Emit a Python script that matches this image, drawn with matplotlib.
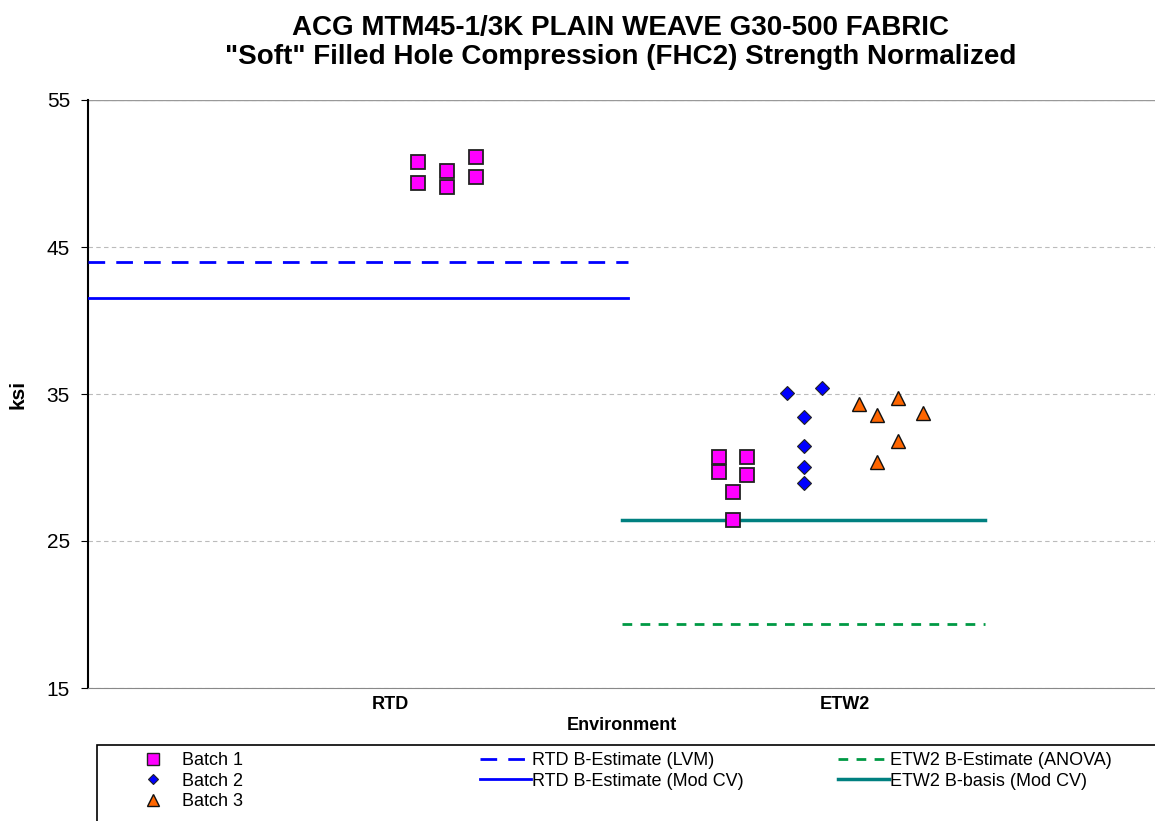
#!/usr/bin/env python3
import matplotlib
matplotlib.use('Agg')
import matplotlib.pyplot as plt
from matplotlib.lines import Line2D
from matplotlib.patches import Rectangle

plt.rcParams['font.family'] = ['Liberation Sans', 'DejaVu Sans']

# categories on the x axis
categories = ['RTD', 'ETW2']
cat_pos = [1, 2]

# RTD, batch 1 (x is the jittered plotting position)
rtd_b1_x = [1.062, 1.062, 1.125, 1.125, 1.189, 1.189]
rtd_b1_y = [50.78, 49.35, 50.17, 49.08, 51.12, 49.76]

# ETW2, batches 1-3
etw_b1_x = [1.723, 1.723, 1.785, 1.785, 1.754, 1.754]
etw_b1_y = [30.69, 29.67, 30.69, 29.49, 28.33, 26.45]
etw_b2_x = [1.873, 1.949, 1.910, 1.910, 1.910, 1.910]
etw_b2_y = [35.09, 35.39, 33.46, 31.44, 30.01, 28.95]
etw_b3_x = [2.031, 2.070, 2.116, 2.171, 2.116, 2.070]
etw_b3_y = [34.30, 33.57, 34.75, 33.73, 31.80, 30.35]

# basis values
rtd_lvm = 43.98
rtd_modcv = 41.53
etw_anova = 19.35
etw_modcv = 26.43
rtd_span = [0.336, 1.523]
etw_span = [1.51, 2.308]

fig = plt.figure(figsize=(11.55, 8.21), dpi=100)
ax = fig.add_axes([88/1155, 1-688/821, 1-88/1155, (688-100)/821])

sq = dict(marker='s', ms=10, mfc='#FF00FF', mec='#222222', mew=1.3, ls='none')
dm = dict(marker='D', ms=7, mfc='#0000FF', mec='#222222', mew=0.8, ls='none')
tr = dict(marker='^', ms=10, mfc='#FF6600', mec='#111111', mew=1.0, ls='none')

ax.plot(rtd_b1_x, rtd_b1_y, zorder=5, **sq)
ax.plot(etw_b1_x, etw_b1_y, zorder=5, **sq)
ax.plot(etw_b2_x, etw_b2_y, zorder=5, **dm)
ax.plot(etw_b3_x, etw_b3_y, zorder=5, **tr)

ax.plot(rtd_span, [rtd_lvm]*2, color='#0000FF', lw=2, ls=(0, (6, 4)), zorder=3)
ax.plot(rtd_span, [rtd_modcv]*2, color='#0000FF', lw=2, zorder=3)
ax.plot(etw_span, [etw_anova]*2, color='#009944', lw=2, ls=(0, (3.5, 3)), zorder=3)
ax.plot(etw_span, [etw_modcv]*2, color='#008080', lw=2.5, zorder=3)

ax.set_xlim(0.336, 2.681)
ax.set_ylim(15, 55)
ax.set_yticks([15, 25, 35, 45, 55])
ax.set_xticks(cat_pos)
ax.set_xticklabels(categories, fontweight='bold', fontsize=13)
ax.tick_params(axis='x', length=0, pad=6)
ax.tick_params(axis='y', labelsize=15, length=5, direction='out', pad=8)
ax.yaxis.grid(True, color='#BBBBBB', ls=(0, (4, 3)), lw=0.8)
ax.set_axisbelow(True)
for s in ['top', 'right']:
    ax.spines[s].set_visible(False)
ax.spines['left'].set_color('black')
ax.spines['left'].set_linewidth(1.5)
ax.spines['bottom'].set_color('#888888')
ax.axhline(55, color='#999999', lw=1)

ax.set_ylabel('ksi', fontweight='bold', fontsize=15, labelpad=14)
ax.set_xlabel('Environment', fontweight='bold', fontsize=13, labelpad=3)

fig.text(621/1155, 1-42/821,
         'ACG MTM45-1/3K PLAIN WEAVE G30-500 FABRIC\n"Soft" Filled Hole Compression (FHC2) Strength Normalized',
         ha='center', va='center', fontsize=20, fontweight='bold', linespacing=1.15)

# legend in three separate columns
fig.patches.append(Rectangle((97/1155, -0.05), 1.0, 1-745/821+0.05,
                             transform=fig.transFigure, fill=False,
                             edgecolor='black', lw=1.2))
h1 = [Line2D([], [], marker='s', ms=8, mfc='#FF00FF', mec='#222222', mew=1.0, ls='none'),
      Line2D([], [], marker='D', ms=5.5, mfc='#0000FF', mec='#222222', mew=0.8, ls='none'),
      Line2D([], [], marker='^', ms=8, mfc='#FF6600', mec='#111111', mew=1.0, ls='none')]
l1 = ['Batch 1', 'Batch 2', 'Batch 3']
h2 = [Line2D([], [], color='#0000FF', lw=2, ls=(0, (6, 4))),
      Line2D([], [], color='#0000FF', lw=2)]
l2 = ['RTD B-Estimate (LVM)', 'RTD B-Estimate (Mod CV)']
h3 = [Line2D([], [], color='#009944', lw=2, ls=(0, (3.5, 3))),
      Line2D([], [], color='#008080', lw=2.5)]
l3 = ['ETW2 B-Estimate (ANOVA)', 'ETW2 B-basis (Mod CV)']

top = 1-752/821
common = dict(loc='upper left', frameon=False, fontsize=13, borderpad=0,
              borderaxespad=0, labelspacing=0.2)
leg1 = fig.legend(h1, l1, bbox_to_anchor=(144/1155, top), handlelength=1.0,
                  handletextpad=1.1, **common)
leg2 = fig.legend(h2, l2, bbox_to_anchor=(480/1155, top), handlelength=2.8,
                  handletextpad=0.1, **common)
leg3 = fig.legend(h3, l3, bbox_to_anchor=(838/1155, top), handlelength=2.8,
                  handletextpad=0.1, **common)

fig.savefig('out.png', dpi=100)
